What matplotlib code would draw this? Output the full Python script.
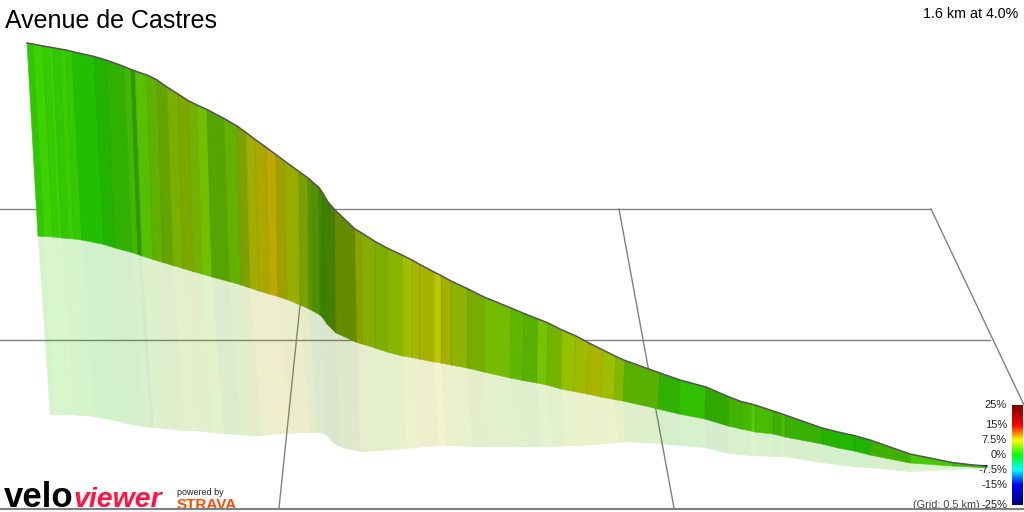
import matplotlib
matplotlib.use("Agg")
import matplotlib.pyplot as plt
from matplotlib.colors import LinearSegmentedColormap
import numpy as np

plt.rcParams['font.family'] = ['Liberation Sans', 'DejaVu Sans']

title = "Avenue de Castres"
summary = "1.6 km at 4.0%"
grid_note = "(Grid: 0.5 km)"

# one entry per stripe edge, everything in pixels
top_x = [27, 33, 43, 49, 53, 60, 66, 72, 94, 106, 124, 131, 135, 147, 157, 167, 178, 188, 197, 207,
         224, 237, 246, 255, 266, 276, 284, 299, 308, 312, 319, 323, 328, 335, 355, 361, 375, 387, 402, 412,
         419, 434, 441, 451, 467, 484, 511, 524, 538, 548, 562, 576, 589, 603, 616, 625, 660, 680, 706, 728,
         741, 751, 755, 773, 781, 785, 822, 838, 854, 870, 910, 952, 973, 987]
top_y = [43, 44, 46, 47, 47.7, 49, 50, 51.5, 56.5, 60, 66.5, 69.5, 71, 75, 80, 87, 94, 100.5, 105, 109.5,
         118.5, 126, 132.5, 139.3, 147.3, 154.7, 160.6, 171.5, 178, 181.5, 187.5, 193.5, 202, 210, 229, 232.5, 241.5, 248, 255, 260,
         264, 272, 275.5, 281, 288.5, 297, 308, 313.5, 319, 323, 330, 336, 343, 350, 356.5, 360.5, 373, 380, 387, 396.5,
         401.5, 404, 405, 411, 413.5, 415, 428, 432, 435.5, 440, 454, 462.5, 465, 466]
wall_x = [38, 44, 53, 58, 62, 68, 74, 82, 104, 115, 132, 138, 142, 153, 163, 173, 183, 193, 202, 212,
          229, 241, 250, 259, 269, 278, 287, 300, 309, 313, 320, 323, 327, 336, 357, 362, 375, 387, 402, 412,
          419, 434, 441, 451, 467, 484, 510, 523, 537, 547, 561, 574, 587, 601, 614, 623, 658, 679, 705, 728,
          741, 751, 755, 773, 781, 785, 822, 838, 854, 870, 910, 952, 973, 987]
wall_y = [236, 236.5, 237, 237.5, 238, 238.5, 239, 240, 244.5, 248, 252.5, 254.5, 256, 259.5, 262.5, 265.5, 268.5, 271.5, 274, 277,
          281.5, 285, 288, 291, 294, 296.5, 299.5, 305, 309, 311, 315, 318, 324, 333, 342.5, 344, 348, 352, 356, 357.5,
          359, 362, 363, 365, 368, 372, 378, 380.5, 383, 385, 389, 391.5, 394, 397, 399.5, 401, 409, 414, 419, 426,
          429, 431, 432, 434, 436, 437, 444, 448, 451, 455, 463, 466, 467, 468]
base_x = [50, 56, 65, 70, 74, 80, 86, 94, 116, 127, 144, 150, 154, 165, 175, 185, 195, 205, 214, 224,
          241, 253, 262, 271, 281, 290, 299, 310, 317, 321, 326, 329, 332, 340, 360, 366, 380, 392, 407, 417,
          424, 439, 446, 456, 472, 489, 515, 528, 542, 552, 566, 578, 592, 606, 619, 625, 660, 680, 706, 728,
          741, 751, 755, 773, 781, 785, 822, 838, 854, 870, 910, 952, 973, 987]
base_y = [415, 415, 415, 415, 415, 416, 416, 417, 421, 424, 427, 428, 428, 429, 430, 431, 431, 432, 433, 434,
          435, 436, 436, 435, 434, 434, 433, 433, 433, 433, 435, 438, 442, 447, 452, 452, 451, 450, 449, 448,
          447, 446, 446, 446, 447, 447, 447, 447, 447, 447, 446, 446, 445, 444, 443, 442, 444, 446, 448, 454,
          455, 456, 456, 457, 457, 457, 463, 465, 467, 468, 472, 470, 469, 468]
stripe_colors = ['#2fc800', '#3dd200', '#37cc00', '#3cd000', '#30c800', '#3acc00', '#35c800', '#22bf00', '#20b400', '#30b000',
                 '#3fb800', '#2f9a00', '#55c000', '#60b000', '#64a400', '#78b000', '#7ea600', '#75b000', '#70c000', '#55a400',
                 '#64b000', '#7da000', '#a0ac00', '#aaa800', '#bba800', '#a09f00', '#98ac00', '#78a000', '#5c9400', '#509000',
                 '#3f8500', '#3a8400', '#467f00', '#658c00', '#8ea000', '#88ac00', '#7cb000', '#86b400', '#9cc000', '#a4b800',
                 '#a8b000', '#bcc800', '#a4b000', '#8cb400', '#78ac00', '#74bc00', '#5eb800', '#58b000', '#74c400', '#74b400',
                 '#94c000', '#a0ba00', '#a8b400', '#9cc000', '#84b800', '#5ab000', '#30b000', '#30c000', '#30a800', '#40b400',
                 '#44b800', '#58cc00', '#48bc00', '#3eb000', '#50c000', '#38b000', '#24b400', '#22b800', '#20b400', '#40b000',
                 '#48c800', '#38c000', '#30c000']

legend_labels = ["25%", "15%", "7.5%", "0%", "-7.5%", "-15%", "-25%"]
legend_y = [405, 425, 440, 455, 470, 485, 505]
legend_colors = ['#800000', '#ff0000', '#ffff00', '#00ff00', '#00ffff', '#0000ff', '#000080']

grid_h = [(0, 931, 209), (0, 990, 340)]
grid_d = [(931, 209, 1024, 405), (619, 209, 674, 508), (310, 209, 279, 508)]

fig = plt.figure(figsize=(10.24, 5.12), dpi=100)
ax = fig.add_axes([0, 0, 1, 1])
ax.set_xlim(0, 1024)
ax.set_ylim(512, 0)
ax.axis('off')

for x0, x1, y in grid_h:
    ax.plot([x0, x1], [y, y], color='#808080', lw=1, zorder=1)
for x0, y0, x1, y1 in grid_d:
    ax.plot([x0, x1], [y0, y1], color='#808080', lw=1, zorder=1)

# shadow on the ground, then the wall over it
for i, c in enumerate(stripe_colors):
    ax.fill([wall_x[i], wall_x[i + 1], base_x[i + 1], base_x[i]],
            [wall_y[i], wall_y[i + 1], base_y[i + 1], base_y[i]],
            facecolor=c, alpha=0.2, lw=0, zorder=2)
    ax.fill([top_x[i], top_x[i + 1], wall_x[i + 1], wall_x[i]],
            [top_y[i], top_y[i + 1], wall_y[i + 1], wall_y[i]],
            facecolor=c, edgecolor=c, lw=0.4, zorder=3)
    if i > 0:
        ax.plot([top_x[i], wall_x[i]], [top_y[i], wall_y[i]], color='black', alpha=0.07, lw=0.8, zorder=3)
ax.plot(top_x, top_y, color='#555555', lw=1.1, zorder=4)

ax.text(5, 28, title, fontsize=18, color='black', ha='left', va='baseline', zorder=6)
ax.text(1018, 18, summary, fontsize=10.3, color='black', ha='right', va='baseline', zorder=6)

# slope legend
stops = [(y - legend_y[0]) / (legend_y[-1] - legend_y[0]) for y in legend_y]
cmap = LinearSegmentedColormap.from_list('slope', list(zip(stops, legend_colors)))
ax.imshow(np.linspace(0, 1, 100).reshape(-1, 1), cmap=cmap, extent=(1012, 1023, 505, 405),
          aspect='auto', zorder=5)
ax.set_xlim(0, 1024)
ax.set_ylim(512, 0)
for lab, y in zip(legend_labels, legend_y):
    ax.text(1007, y, lab, fontsize=8, color='#222222', ha='right', va='center', zorder=6)
ax.text(980, 505, grid_note, fontsize=7.8, color='#444444', ha='right', va='center', zorder=6)

# logos
ax.text(4, 507, "velo", fontsize=25, fontweight='bold', color='black',
        ha='left', va='baseline', zorder=6)
ax.text(73, 507, "viewer", fontsize=20.5, fontweight='bold', style='italic', color='#ff1540',
        ha='left', va='baseline', zorder=6)
ax.text(177, 495, "powered by", fontsize=6.5, color='#222222', ha='left', va='baseline', zorder=6)
ax.text(177, 509, "STRAVA", fontsize=11, fontweight='bold', color='#fc4c02', ha='left', va='baseline', zorder=6)

ax.plot([0, 1024], [508.5, 508.5], color='#808080', lw=1.5, zorder=7)

fig.savefig('out.png', dpi=100)
